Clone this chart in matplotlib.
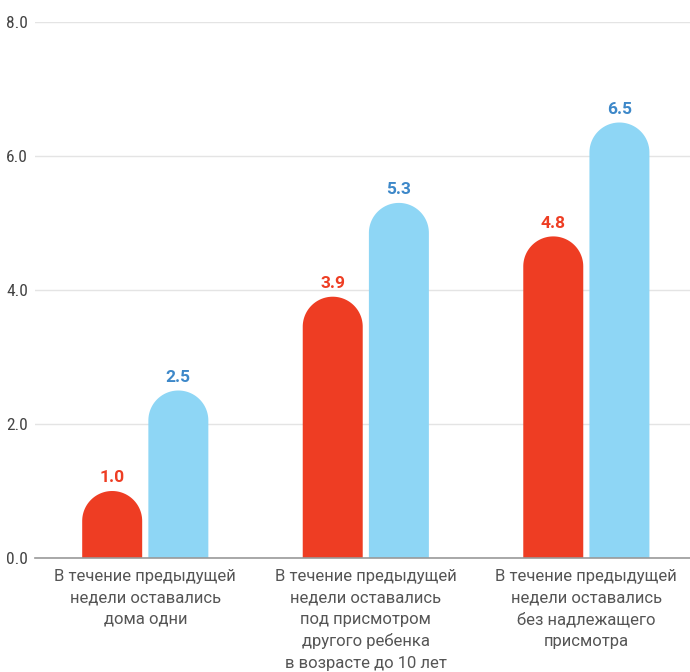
import matplotlib
matplotlib.use('Agg')
from matplotlib import pyplot as plt
from matplotlib.patches import Polygon
import numpy as np

categories = ['В течение предыдущей\nнедели оставались\nдома одни',
              'В течение предыдущей\nнедели оставались\nпод присмотром\nдругого ребенка\nв возрасте до 10 лет',
              'В течение предыдущей\nнедели оставались\nбез надлежащего\nприсмотра']
red_vals = [1.0, 3.9, 4.8]
blue_vals = [2.5, 5.3, 6.5]
yticks = [0, 2, 4, 6, 8]

red = '#EE3D23'
blue = '#8ED6F5'
blue_txt = '#3D88C9'

plt.rcParams['font.family'] = ['Roboto', 'DejaVu Sans']

fig = plt.figure(figsize=(6.9, 6.72), dpi=100)
ax = fig.add_axes([35/690, 114/672, 655/690, 536/672])

x = np.arange(len(categories))
w = 0.272
off = 0.15
# cap radius: half bar width in px, converted to y units
px_per_x = 655 / 2.97
px_per_y = 536 / 8.0
r = (w * px_per_x / 2) / px_per_y
t = np.linspace(np.pi, 0, 60)

def pill(xc, v, col):
    # bar with a round top, one shape so there's no seam
    top = v - r
    pts = [(xc - w/2, 0), (xc - w/2, top)]
    pts += list(zip(xc + w/2 * np.cos(t), top + r * np.sin(t)))
    pts += [(xc + w/2, top), (xc + w/2, 0)]
    ax.add_patch(Polygon(pts, closed=True, facecolor=col, edgecolor='none', zorder=3))

for xs, vals, col, tcol in [(x - off, red_vals, red, red), (x + off, blue_vals, blue, blue_txt)]:
    for xi, v in zip(xs, vals):
        pill(xi, v, col)
        ax.annotate(f'{v:.1f}', (xi, v), xytext=(0, 4), textcoords='offset points',
                    ha='center', va='bottom', fontsize=12.5, fontweight='bold', color=tcol)

ax.set_xlim(-0.5, 2.47)
ax.set_ylim(0, 8)
ax.set_yticks(yticks)
ax.set_yticklabels([f'{t:.1f}' for t in yticks], fontsize=12.5,
                   family=['Roboto Condensed', 'Liberation Sans Narrow', 'Roboto'], color='#444444')
ax.set_xticks(x)
ax.set_xticklabels(categories, fontsize=12, color='#555555', linespacing=1.52)
ax.tick_params(axis='both', length=0)
ax.tick_params(axis='x', pad=8)
ax.tick_params(axis='y', pad=5)
ax.grid(axis='y', color='#E4E4E4', lw=1, zorder=0)
for s in ['top', 'right', 'left']:
    ax.spines[s].set_visible(False)
ax.spines['bottom'].set_color('#999999')
ax.spines['bottom'].set_linewidth(1.2)
ax.spines['bottom'].set_zorder(4)

fig.savefig('out.png', dpi=100)
